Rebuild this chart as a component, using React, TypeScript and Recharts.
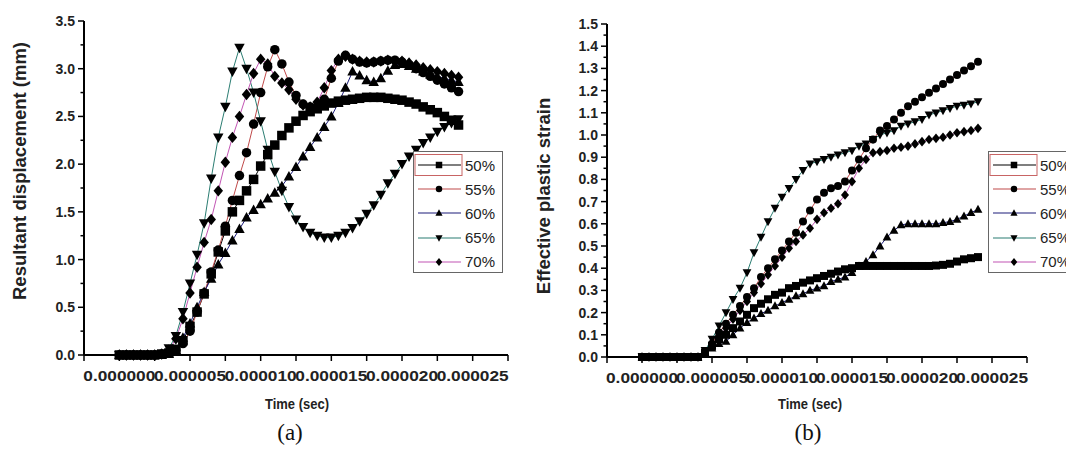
import React from "react"
import { LineChart, Line, XAxis, YAxis, Legend } from "recharts"

// time in microseconds, the axis prints it in seconds
const TIME_US = [
  0, 0.5, 1, 1.5, 2, 2.5, 3, 3.5, 4, 4.5, 5, 5.5, 6, 6.5, 7, 7.5, 8, 8.5, 9, 9.5,
  10, 10.5, 11, 11.5, 12, 12.5, 13, 13.5, 14, 14.5, 15, 15.5, 16, 16.5, 17, 17.5,
  18, 18.5, 19, 19.5, 20, 20.5, 21, 21.5, 22, 22.5, 23, 23.5, 24,
]

const X_TICKS_US = [-2.5, 0, 2.5, 5, 7.5, 10, 12.5, 15, 17.5, 20, 22.5, 25, 27.5]
const X_LABELS_US = [0, 5, 10, 15, 20, 25]

const DISP_TICKS = [0, 0.25, 0.5, 0.75, 1, 1.25, 1.5, 1.75, 2, 2.25, 2.5, 2.75, 3, 3.25, 3.5]
const DISP_LABELS = [0, 0.5, 1, 1.5, 2, 2.5, 3, 3.5]

const STRAIN_TICKS = [
  0, 0.05, 0.1, 0.15, 0.2, 0.25, 0.3, 0.35, 0.4, 0.45, 0.5, 0.55, 0.6, 0.65, 0.7, 0.75,
  0.8, 0.85, 0.9, 0.95, 1, 1.05, 1.1, 1.15, 1.2, 1.25, 1.3, 1.35, 1.4, 1.45, 1.5,
]
const STRAIN_LABELS = [0, 0.1, 0.2, 0.3, 0.4, 0.5, 0.6, 0.7, 0.8, 0.9, 1, 1.1, 1.2, 1.3, 1.4, 1.5]

// (a) resultant displacement, mm
const DISP_50 = [
  0, 0, 0, 0, 0, 0, 0.01, 0.02, 0.06, 0.15, 0.3, 0.45, 0.64, 0.85, 1.08, 1.3,
  1.5, 1.62, 1.72, 1.84, 1.98, 2.1, 2.2, 2.3, 2.38, 2.45,
  2.51, 2.55, 2.58, 2.61, 2.64, 2.66, 2.67, 2.68, 2.69, 2.7,
  2.7, 2.7, 2.69, 2.68, 2.67, 2.65, 2.63, 2.6, 2.57, 2.54,
  2.5, 2.46, 2.41,
]
const DISP_55 = [
  0, 0, 0, 0, 0, 0, 0.01, 0.02, 0.05, 0.12, 0.25, 0.45, 0.65, 0.87, 1.1, 1.35,
  1.62, 1.88, 2.12, 2.42, 2.75, 3.02, 3.2, 3.05, 2.86, 2.72,
  2.63, 2.6, 2.6, 2.68, 2.9, 3.08, 3.14, 3.1, 3.07, 3.06,
  3.07, 3.08, 3.09, 3.09, 3.07, 3.04, 3.0, 2.96, 2.92, 2.88,
  2.84, 2.8, 2.76,
]
const DISP_60 = [
  0, 0, 0, 0, 0, 0, 0, 0.01, 0.05, 0.18, 0.33, 0.5, 0.66, 0.8, 0.95, 1.07,
  1.2, 1.32, 1.44, 1.52, 1.58, 1.64, 1.7, 1.77, 1.87, 1.97,
  2.08, 2.18, 2.28, 2.39, 2.5, 2.64, 2.8, 2.97, 2.93, 2.88,
  2.86, 2.9, 2.98, 3.04, 3.05, 3.03, 3.0, 2.97, 2.94, 2.92,
  2.9, 2.88, 2.86,
]
const DISP_65 = [
  0, 0, 0, 0, 0, 0, 0.01, 0.07, 0.2, 0.45, 0.75, 1.05, 1.38, 1.85, 2.28, 2.6,
  2.97, 3.22, 3.0, 2.75, 2.45, 2.15, 1.92, 1.72, 1.55, 1.42,
  1.34, 1.28, 1.25, 1.23, 1.23, 1.25, 1.28, 1.33, 1.4, 1.48,
  1.57, 1.68, 1.8, 1.9, 2.0, 2.08, 2.15, 2.22, 2.28, 2.34,
  2.39, 2.43, 2.47,
]
const DISP_70 = [
  0, 0, 0, 0, 0, 0, 0.01, 0.05, 0.17, 0.38, 0.65, 0.92, 1.18, 1.42, 1.72, 2.02,
  2.28, 2.5, 2.73, 2.95, 3.1, 3.05, 2.92, 2.85, 2.78, 2.68,
  2.62, 2.6, 2.65, 2.8, 2.98, 3.1, 3.13, 3.1, 3.08, 3.07,
  3.07, 3.08, 3.09, 3.08, 3.08, 3.06, 3.04, 3.01, 2.99, 2.97,
  2.95, 2.93, 2.91,
]

// (b) effective plastic strain
const STRAIN_50 = [
  0, 0, 0, 0, 0, 0, 0, 0, 0, 0.02, 0.05, 0.08, 0.1, 0.13, 0.16, 0.19,
  0.22, 0.24, 0.26, 0.28, 0.29, 0.31, 0.32, 0.335, 0.345, 0.355,
  0.365, 0.375, 0.385, 0.395, 0.4, 0.41, 0.41, 0.41, 0.41, 0.41,
  0.41, 0.41, 0.41, 0.41, 0.41, 0.41, 0.412, 0.415, 0.42, 0.43,
  0.44, 0.445, 0.45,
]
const STRAIN_55 = [
  0, 0, 0, 0, 0, 0, 0, 0, 0, 0.02, 0.06, 0.11, 0.15, 0.19, 0.23, 0.27,
  0.31, 0.36, 0.4, 0.44, 0.48, 0.52, 0.56, 0.61, 0.66, 0.71,
  0.74, 0.76, 0.77, 0.79, 0.84, 0.89, 0.94, 0.98, 1.02, 1.04,
  1.07, 1.1, 1.13, 1.15, 1.17, 1.19, 1.21, 1.23, 1.25, 1.27,
  1.29, 1.31, 1.33,
]
const STRAIN_60 = [
  0, 0, 0, 0, 0, 0, 0, 0, 0, 0.02, 0.04, 0.06, 0.07, 0.1, 0.13, 0.155,
  0.175, 0.195, 0.21, 0.23, 0.245, 0.26, 0.275, 0.285, 0.3, 0.31,
  0.32, 0.34, 0.35, 0.36, 0.38, 0.41, 0.43, 0.46, 0.5, 0.54,
  0.57, 0.595, 0.6, 0.6, 0.6, 0.6, 0.6, 0.605, 0.61, 0.62,
  0.635, 0.65, 0.665,
]
const STRAIN_65 = [
  0, 0, 0, 0, 0, 0, 0, 0, 0, 0.03, 0.08, 0.14, 0.2, 0.26, 0.31, 0.38,
  0.47, 0.54, 0.61, 0.67, 0.72, 0.76, 0.8, 0.84, 0.87, 0.88,
  0.89, 0.9, 0.91, 0.92, 0.93, 0.95, 0.96, 0.98, 1.0, 1.01,
  1.02, 1.04, 1.05, 1.06, 1.07, 1.09, 1.1, 1.11, 1.12, 1.13,
  1.135, 1.14, 1.15,
]
const STRAIN_70 = [
  0, 0, 0, 0, 0, 0, 0, 0, 0, 0.02, 0.05, 0.09, 0.13, 0.17, 0.21, 0.25,
  0.29, 0.33, 0.37, 0.41, 0.45, 0.49, 0.52, 0.55, 0.58, 0.62,
  0.65, 0.67, 0.69, 0.73, 0.79, 0.85, 0.89, 0.92, 0.925, 0.93,
  0.94, 0.945, 0.95, 0.96, 0.97, 0.98, 0.985, 0.99, 1.0, 1.01,
  1.015, 1.02, 1.03,
]

type Shape = "square" | "circle" | "up" | "down" | "diamond"

const SERIES: { key: string; name: string; color: string; shape: Shape }[] = [
  { key: "p50", name: "50%", color: "#000000", shape: "square" },
  { key: "p55", name: "55%", color: "#c04a4a", shape: "circle" },
  { key: "p60", name: "60%", color: "#1c1c7a", shape: "up" },
  { key: "p65", name: "65%", color: "#2b7d72", shape: "down" },
  { key: "p70", name: "70%", color: "#c255b4", shape: "diamond" },
]

const dispData = TIME_US.map((t, i) => ({
  t,
  p50: DISP_50[i],
  p55: DISP_55[i],
  p60: DISP_60[i],
  p65: DISP_65[i],
  p70: DISP_70[i],
}))

const strainData = TIME_US.map((t, i) => ({
  t,
  p50: STRAIN_50[i],
  p55: STRAIN_55[i],
  p60: STRAIN_60[i],
  p65: STRAIN_65[i],
  p70: STRAIN_70[i],
}))

const SANS = "'Liberation Sans', Arial, sans-serif"
const SERIF = "'Liberation Serif', 'Times New Roman', serif"

function Marker({ cx, cy, shape, size }: { cx?: number; cy?: number; shape: Shape; size: number }) {
  if (cx == null || cy == null) return null
  const h = size / 2
  if (shape === "square") return <rect x={cx - h} y={cy - h} width={size} height={size} fill="#000" />
  if (shape === "circle") return <circle cx={cx} cy={cy} r={h} fill="#000" />
  if (shape === "up")
    return <polygon points={`${cx},${cy - h * 1.15} ${cx + h * 1.1},${cy + h * 0.85} ${cx - h * 1.1},${cy + h * 0.85}`} fill="#000" />
  if (shape === "down")
    return <polygon points={`${cx},${cy + h * 1.15} ${cx + h * 1.1},${cy - h * 0.85} ${cx - h * 1.1},${cy - h * 0.85}`} fill="#000" />
  return <polygon points={`${cx},${cy - h * 1.2} ${cx + h},${cy} ${cx},${cy + h * 1.2} ${cx - h},${cy}`} fill="#000" />
}

const makeYTick = (labels: number[]) => (props: any) => {
  const { x, y, payload } = props
  const major = labels.includes(payload.value)
  return (
    <g>
      <line x1={x - (major ? 6 : 3.5)} x2={x} y1={y} y2={y} stroke="#000" strokeWidth={1.5} />
      {major && (
        <text
          x={x - 9}
          y={y}
          textAnchor="end"
          dominantBaseline="central"
          fontFamily={SANS}
          fontWeight="bold"
          fontSize={14}
          fill="#222"
        >
          {payload.value.toFixed(1)}
        </text>
      )}
    </g>
  )
}

const XTick = (props: any) => {
  const { x, y, payload } = props
  const labeled = X_LABELS_US.includes(payload.value)
  return (
    <g>
      <line x1={x} x2={x} y1={y} y2={y + 6} stroke="#000" strokeWidth={1.5} />
      {labeled && (
        <text
          x={x}
          y={y + 21}
          textAnchor="middle"
          dominantBaseline="central"
          fontFamily={SANS}
          fontWeight="bold"
          fontSize={14}
          fill="#222"
          textLength={72}
          lengthAdjust="spacingAndGlyphs"
        >
          {(payload.value * 1e-6).toFixed(6)}
        </text>
      )}
    </g>
  )
}

function LegendBox() {
  return (
    <div style={{ width: 90, height: 122, border: "1px solid #666", background: "#fff", boxSizing: "border-box", paddingTop: 1 }}>
      {SERIES.map((s, i) => (
        <div key={s.key} style={{ height: 24.2, display: "flex", alignItems: "center" }}>
          <svg width={50} height={24} style={{ display: "block" }}>
            {i === 0 && <rect x={1} y={1.5} width={47} height={21} fill="none" stroke="#c86464" strokeWidth={1} />}
            <line x1={4} x2={47} y1={12} y2={12} stroke={s.color} strokeWidth={1.2} />
            <Marker cx={25} cy={12} shape={s.shape} size={6.5} />
          </svg>
          <span style={{ fontFamily: SANS, fontSize: 15, color: "#222", marginLeft: 1 }}>{s.name}</span>
        </div>
      ))}
    </div>
  )
}

function Panel({
  data,
  yTicks,
  yLabels,
  yMax,
  width,
  margin,
  markerSize,
  legendLeft,
}: {
  data: any[]
  yTicks: number[]
  yLabels: number[]
  yMax: number
  width: number
  margin: { top: number; right: number; bottom: number; left: number }
  markerSize: number
  legendLeft: number
}) {
  return (
    <LineChart width={width} height={400} data={data} margin={margin}>
      <XAxis
        dataKey="t"
        type="number"
        domain={[-2.5, 27.5]}
        ticks={X_TICKS_US}
        interval={0}
        height={40}
        axisLine={{ stroke: "#000", strokeWidth: 2 }}
        tickLine={false}
        tickSize={0}
        tickMargin={0}
        tick={XTick}
      />
      <YAxis
        type="number"
        domain={[0, yMax]}
        ticks={yTicks}
        interval={0}
        width={60}
        axisLine={{ stroke: "#000", strokeWidth: 2 }}
        tickLine={false}
        tickSize={0}
        tickMargin={0}
        tick={makeYTick(yLabels)}
      />
      <Legend
        layout="vertical"
        align="center"
        verticalAlign="middle"
        content={() => <LegendBox />}
        wrapperStyle={{ left: legendLeft, top: 151, width: 90 }}
      />
      {SERIES.map((s) => (
        <Line
          key={s.key}
          name={s.name}
          dataKey={s.key}
          type="linear"
          stroke={s.color}
          strokeWidth={1}
          dot={(p: any) => <Marker key={`${s.key}-${p.index}`} cx={p.cx} cy={p.cy} shape={s.shape} size={markerSize} />}
          activeDot={false}
          isAnimationActive={false}
        />
      ))}
    </LineChart>
  )
}

export default function App() {
  return (
    <div style={{ position: "absolute", left: 0, top: 0, width: 1066, height: 450, overflow: "hidden", background: "#fff" }}>
      <div style={{ position: "absolute", left: 0, top: 0 }}>
        <Panel
          data={dispData}
          yTicks={DISP_TICKS}
          yLabels={DISP_LABELS}
          yMax={3.5}
          width={530}
          margin={{ top: 21, right: 22, bottom: 5, left: 24 }}
          markerSize={9.5}
          legendLeft={413}
        />
      </div>
      <div style={{ position: "absolute", left: 533, top: 0 }}>
        <Panel
          data={strainData}
          yTicks={STRAIN_TICKS}
          yLabels={STRAIN_LABELS}
          yMax={1.5}
          width={533}
          margin={{ top: 24, right: 39, bottom: 3, left: 14 }}
          markerSize={8}
          legendLeft={455}
        />
      </div>
      <svg width={1066} height={450} style={{ position: "absolute", left: 0, top: 0, pointerEvents: "none" }}>
        <text x={19} y={171} transform="rotate(-90 19 171)" textAnchor="middle" dominantBaseline="central" fontFamily={SANS} fontWeight="bold" fontSize={18.5} fill="#222">
          Resultant displacement (mm)
        </text>
        <text x={543} y={196} transform="rotate(-90 543 196)" textAnchor="middle" dominantBaseline="central" fontFamily={SANS} fontWeight="bold" fontSize={18.5} fill="#222">
          Effective plastic strain
        </text>
        <text x={297} y={403} textAnchor="middle" dominantBaseline="central" fontFamily={SANS} fontWeight="bold" fontSize={15} fill="#222" textLength={64} lengthAdjust="spacingAndGlyphs">
          Time (sec)
        </text>
        <text x={810} y={403} textAnchor="middle" dominantBaseline="central" fontFamily={SANS} fontWeight="bold" fontSize={15} fill="#222" textLength={64} lengthAdjust="spacingAndGlyphs">
          Time (sec)
        </text>
        <text x={290} y={432} textAnchor="middle" dominantBaseline="central" fontFamily={SERIF} fontSize={23} fill="#111">
          (a)
        </text>
        <text x={808} y={432} textAnchor="middle" dominantBaseline="central" fontFamily={SERIF} fontSize={23} fill="#111">
          (b)
        </text>
      </svg>
    </div>
  )
}
